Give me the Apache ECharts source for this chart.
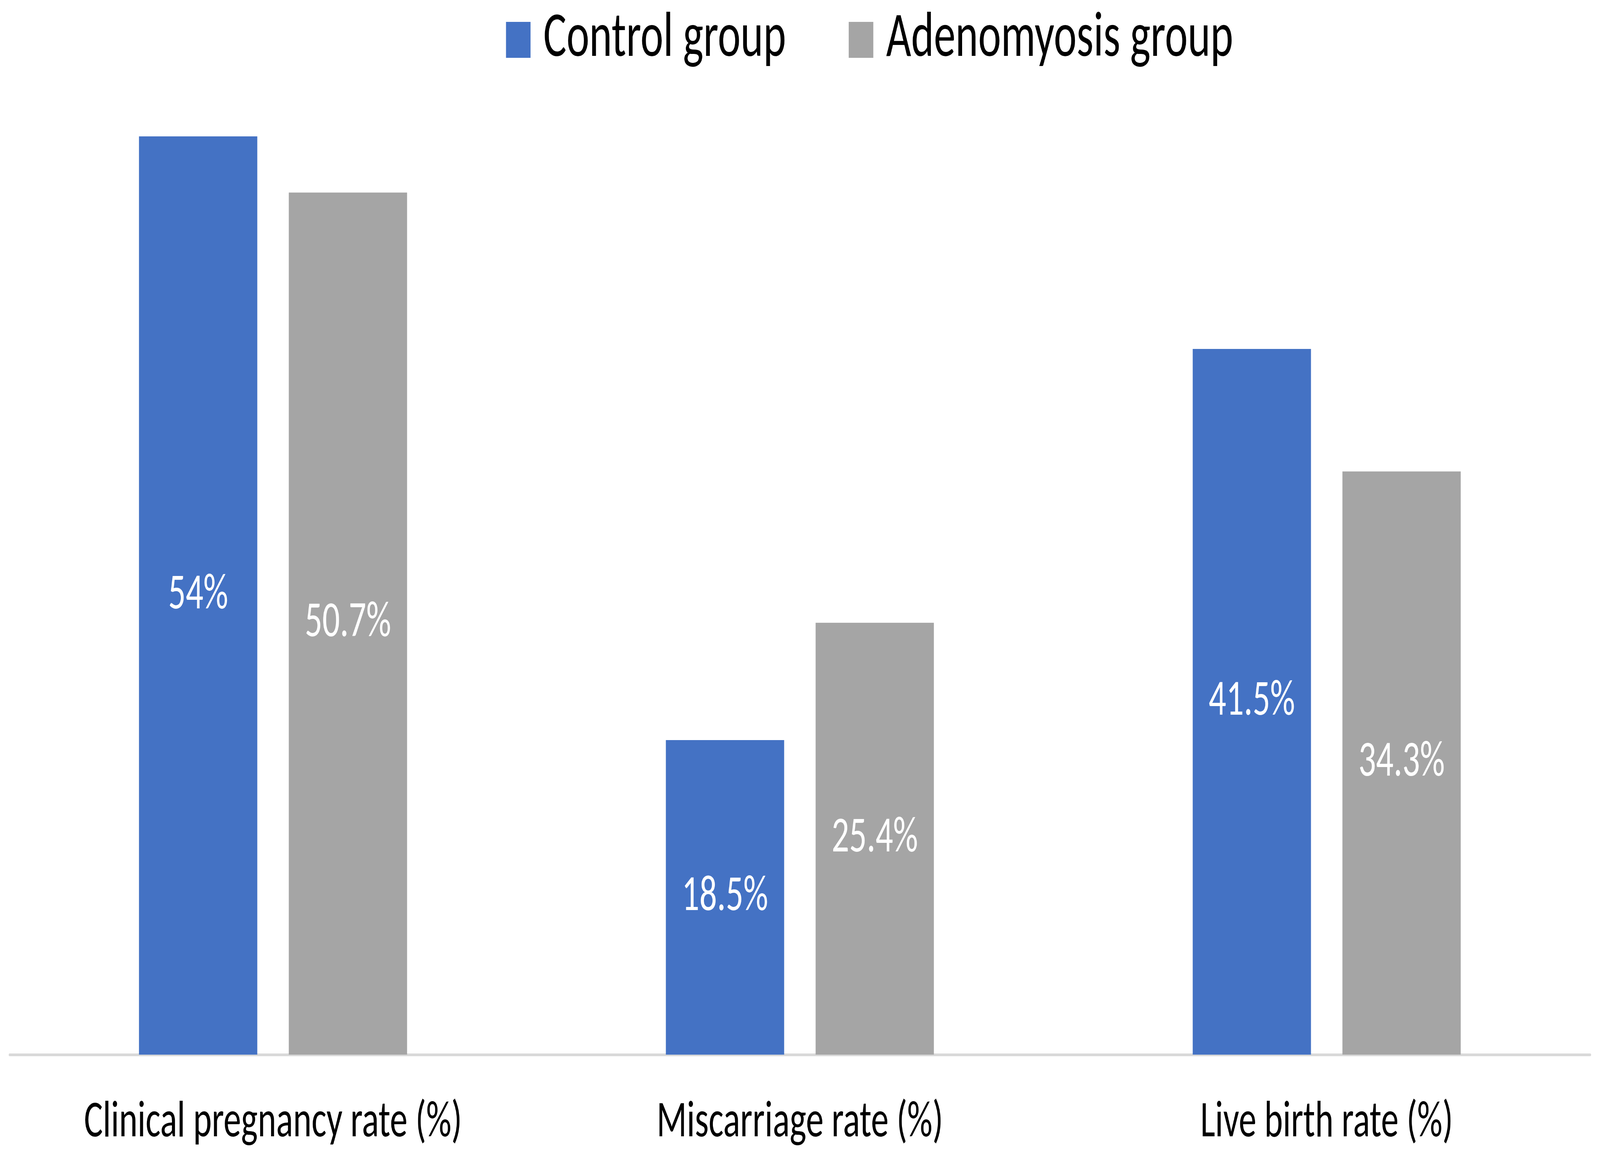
<!DOCTYPE html>
<html>
<head>
<meta charset="utf-8">
<script src="https://cdn.jsdelivr.net/npm/echarts@6/dist/echarts.min.js"></script>
<style>
  html, body { margin: 0; padding: 0; background: #ffffff; overflow: hidden; }
  #chart { width: 5992px; height: 2984px; transform-origin: 0 0; }
</style>
</head>
<body>
<div id="chart"></div>
<script>
const categories = ['Clinical pregnancy rate (%)', 'Miscarriage rate (%)', 'Live birth rate (%)'];
const seriesNames = ['Control group', 'Adenomyosis group'];
const controlValues = [54, 18.5, 41.5];
const adenomyosisValues = [50.7, 25.4, 34.3];

const FONT = 'Carlito, Calibri, "Liberation Sans Narrow", sans-serif';

// Fit the 5992x2984 design into whatever viewport the browser actually provides.
const el = document.getElementById('chart');
const sx = (window.innerWidth || 5992) / 5992;
const sy = (window.innerHeight || 2984) / 2984;
if (Math.abs(sx - 1) > 0.001 || Math.abs(sy - 1) > 0.001) {
  el.style.transform = 'scale(' + sx + ',' + sy + ')';
}

const chart = echarts.init(el, null, { renderer: 'canvas' });
chart.setOption({
  backgroundColor: '#ffffff',
  animation: false,
  color: ['#4472C4', '#A5A5A5'],
  legend: {
    data: seriesNames,
    left: 1890,
    top: 16,
    itemWidth: 92,
    itemHeight: 92,
    itemGap: 235,
    icon: 'rect',
    textStyle: {
      fontFamily: FONT,
      fontSize: 162,
      color: '#000000',
      padding: [0, 0, 0, 43]
    }
  },
  grid: {
    left: 36,
    right: 37,
    top: 88,
    bottom: 285,
    containLabel: false
  },
  xAxis: {
    type: 'category',
    data: categories,
    axisLine: { show: true, lineStyle: { color: '#D9D9D9', width: 7 } },
    axisTick: { show: false },
    axisLabel: {
      fontFamily: FONT,
      fontSize: 132,
      color: '#000000',
      margin: 110,
      interval: 0
    }
  },
  yAxis: {
    type: 'value',
    min: 0,
    max: 60,
    interval: 10,
    show: false,
    splitLine: { show: false }
  },
  series: [
    {
      name: seriesNames[0],
      type: 'bar',
      data: controlValues,
      barWidth: 443,
      barGap: '26.6%',
      label: {
        show: true,
        position: 'inside',
        formatter: '{c}%',
        fontFamily: FONT,
        fontSize: 130,
        color: '#ffffff'
      }
    },
    {
      name: seriesNames[1],
      type: 'bar',
      data: adenomyosisValues,
      barWidth: 443,
      barGap: '26.6%',
      label: {
        show: true,
        position: 'inside',
        formatter: '{c}%',
        fontFamily: FONT,
        fontSize: 130,
        color: '#ffffff'
      }
    }
  ]
});
</script>
</body>
</html>
